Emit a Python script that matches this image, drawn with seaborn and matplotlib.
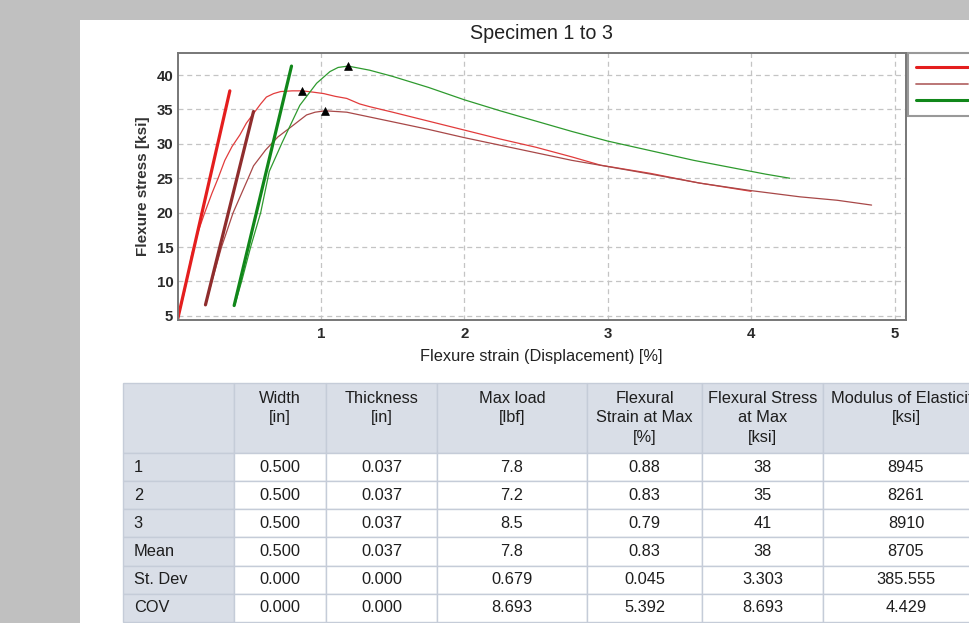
import matplotlib
matplotlib.use("Agg")
import matplotlib.pyplot as plt
import seaborn as sns
import pandas as pd
import numpy as np
from matplotlib.lines import Line2D
from matplotlib.patches import Rectangle

# Courbes : deformation [%] / contrainte [ksi]
strain_1 = [0.0, 0.05, 0.10, 0.15, 0.19, 0.24, 0.283, 0.33, 0.38, 0.435, 0.48, 0.53,
            0.58, 0.62, 0.67, 0.72, 0.80, 0.87, 0.95, 1.02, 1.10, 1.18, 1.27, 1.34,
            1.5, 1.75, 2.0, 2.25, 2.5, 2.75, 2.95, 3.3, 3.64, 4.0]
stress_1 = [4.4, 8.6, 14.0, 17.6, 20.0, 22.8, 25.0, 27.6, 29.6, 31.3, 33.0, 34.4,
            35.8, 36.8, 37.3, 37.6, 37.7, 37.7, 37.5, 37.3, 36.9, 36.6, 35.8, 35.4,
            34.6, 33.3, 32.0, 30.7, 29.5, 28.1, 26.9, 25.7, 24.3, 23.1]

strain_2 = [0.195, 0.24, 0.307, 0.388, 0.493, 0.53, 0.614, 0.70, 0.807, 0.90, 0.96,
            1.03, 1.18, 1.34, 1.5, 1.75, 2.0, 2.25, 2.5, 2.75, 3.0, 3.3, 3.64, 4.0,
            4.34, 4.6, 4.84]
stress_2 = [6.6, 10.0, 15.0, 20.0, 25.0, 26.8, 29.1, 31.0, 32.7, 34.2, 34.6,
            34.8, 34.6, 33.9, 33.2, 32.1, 30.9, 29.8, 28.7, 27.6, 26.7, 25.6, 24.3, 23.2,
            22.3, 21.8, 21.1]

strain_3 = [0.40, 0.447, 0.51, 0.58, 0.64, 0.73, 0.853, 0.97, 1.063, 1.12, 1.19,
            1.34, 1.5, 1.75, 2.0, 2.25, 2.5, 2.75, 3.0, 3.3, 3.6, 3.9, 4.1, 4.27]
stress_3 = [6.6, 10.0, 15.0, 20.0, 26.0, 30.2, 35.6, 38.8, 40.5, 41.1, 41.3,
            40.7, 39.8, 38.2, 36.4, 34.8, 33.3, 31.8, 30.4, 29.0, 27.6, 26.4, 25.6, 25.0]

# Droites de module (debut / fin)
mod_strain = [[0.0, 0.365], [0.195, 0.53], [0.395, 0.795]]
mod_stress = [[4.4, 37.7], [6.6, 34.7], [6.5, 41.3]]

# Points de rupture (maximum)
peak_strain = [0.87, 1.03, 1.19]
peak_stress = [37.7, 34.8, 41.3]

labels = ["Specimen 1", "Specimen 2", "Specimen 3"]
thin_colors = ["#e23c3c", "#a84848", "#2e9a2e"]
thick_colors = ["#e41e1e", "#8f2d2d", "#11871a"]

# Tableau des resultats
row_labels = ["1", "2", "3", "Mean", "St. Dev", "COV"]
col_headers = ["Width\n[in]", "Thickness\n[in]", "Max load\n[lbf]",
               "Flexural\nStrain at Max\n[%]", "Flexural Stress\nat Max\n[ksi]",
               "Modulus of Elasticity\n[ksi]"]
width_in = ["0.500", "0.500", "0.500", "0.500", "0.000", "0.000"]
thickness_in = ["0.037", "0.037", "0.037", "0.037", "0.000", "0.000"]
max_load = ["7.8", "7.2", "8.5", "7.8", "0.679", "8.693"]
strain_max = ["0.88", "0.83", "0.79", "0.83", "0.045", "5.392"]
stress_max = ["38", "35", "41", "38", "3.303", "8.693"]
modulus = ["8945", "8261", "8910", "8705", "385.555", "4.429"]

W, H = 969, 623
sns.set_style("white")
plt.rcParams["font.family"] = ["Liberation Sans", "DejaVu Sans"]

fig = plt.figure(figsize=(W / 100, H / 100), dpi=100, facecolor="#c0c0c0")
fig.add_artist(Rectangle((80 / W, 0), (W - 80) / W, (H - 20) / H,
                         transform=fig.transFigure, facecolor="white",
                         edgecolor="none", zorder=0))

ax = fig.add_axes([177.5 / W, 1 - 320 / H, (906 - 177.5) / W, (320 - 53) / H])

curves = [(strain_1, stress_1), (strain_2, stress_2), (strain_3, stress_3)]
for i, (xs, ys) in enumerate(curves):
    df = pd.DataFrame({"strain": xs, "stress": ys})
    sns.lineplot(data=df, x="strain", y="stress", ax=ax, color=thin_colors[i],
                 lw=0.9, sort=False, estimator=None)
    dm = pd.DataFrame({"strain": mod_strain[i], "stress": mod_stress[i]})
    sns.lineplot(data=dm, x="strain", y="stress", ax=ax, color=thick_colors[i],
                 lw=2.3, sort=False, estimator=None)

sns.scatterplot(x=peak_strain, y=peak_stress, ax=ax, marker="^", color="black",
                s=32, edgecolor="black", linewidth=0.5, zorder=5)

ax.set_xlim(0, 5.08)
ax.set_ylim(4.4, 43.2)
ax.set_xticks([1, 2, 3, 4, 5])
ax.set_yticks([5, 10, 15, 20, 25, 30, 35, 40])
ax.tick_params(length=0, labelsize=10.8, colors="#2a2a2a")
ax.tick_params(axis="x", pad=5)
ax.tick_params(axis="y", pad=3)
for t in ax.get_xticklabels() + ax.get_yticklabels():
    t.set_fontweight("bold")
ax.grid(True, color="#c4c4c4", linestyle=(0, (4, 3)), lw=0.9)
for sp in ax.spines.values():
    sp.set_color("#777777")
    sp.set_linewidth(1.4)

ax.set_title("Specimen 1 to 3", fontsize=14.2, color="#222222", pad=10)
ax.set_xlabel("Flexure strain (Displacement) [%]", fontsize=11.8, color="#222222", labelpad=6)
ax.set_ylabel("Flexure stress [ksi]", fontsize=11, fontweight="bold", color="#333333", labelpad=5)

handles = [Line2D([0], [0], color=thick_colors[0], lw=2.2),
           Line2D([0], [0], color="#b56b6b", lw=1.3),
           Line2D([0], [0], color=thick_colors[2], lw=2.2)]
leg = fig.legend(handles, labels, loc="upper left", bbox_to_anchor=(908 / W, 1 - 53 / H),
                 fontsize=10, frameon=True, fancybox=False, borderpad=0.55,
                 labelspacing=0.2, handlelength=3.8, handletextpad=3.0, borderaxespad=0)
leg.get_frame().set_edgecolor("#808080")
leg.get_frame().set_linewidth(1.5)

# Tableau
ax_tab = fig.add_axes([122.7 / W, 1 / H, 866 / W, 239 / H])
ax_tab.axis("off")
cols = [width_in, thickness_in, max_load, strain_max, stress_max, modulus]
cell_text = [[row_labels[r]] + [c[r] for c in cols] for r in range(len(row_labels))]
header = [""] + [h + "\n" * (3 - h.count("\n") - 1) for h in col_headers]
col_w = [111, 92, 111.6, 149.4, 115.6, 121, 165.4]
col_w = [w / sum(col_w) for w in col_w]
tab = ax_tab.table(cellText=cell_text, colLabels=header, colWidths=col_w,
                   cellLoc="center", bbox=[0, 0, 1, 1])
tab.auto_set_font_size(False)
tab.set_fontsize(11.8)
for (r, c), cell in tab.get_celld().items():
    cell.set_edgecolor("#c5ccd8")
    cell.set_linewidth(1.0)
    cell.get_text().set_color("#1e1e1e")
    if r == 0:
        cell.set_height(70)
        cell.set_facecolor("#d9dee7")
        cell.get_text().set_linespacing(1.4)
    else:
        cell.set_height(28.2)
        cell.set_facecolor("#d9dee7" if c == 0 else "white")
    if c == 0 and r > 0:
        cell._loc = "left"
        cell.get_text().set_horizontalalignment("left")

fig.savefig("out.png", dpi=100, facecolor=fig.get_facecolor())
plt.close()
